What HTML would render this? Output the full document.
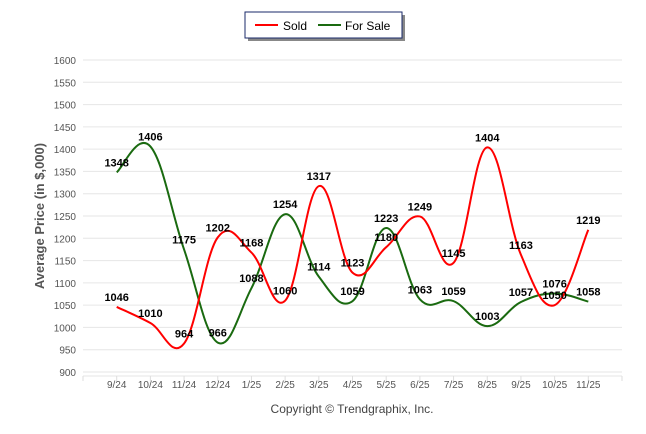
<!DOCTYPE html>
<html><head><meta charset="utf-8"><style>
body{margin:0;background:#fff;font-family:"Liberation Sans",Arial,sans-serif}
svg{display:block}
</style></head><body>
<svg id="c" width="646" height="434">
<g>
<rect x="248" y="15" width="157" height="26" fill="#888"/>
<rect x="245" y="12" width="157" height="26" fill="#fff" stroke="#1a2a6a" stroke-width="1"/>
<line x1="255" y1="25" x2="278" y2="25" stroke="#f00" stroke-width="2"/>
<text x="283" y="30" font-size="12" fill="#000">Sold</text>
<line x1="318" y1="25" x2="341" y2="25" stroke="#1a6a10" stroke-width="2"/>
<text x="345" y="30" font-size="12" fill="#000">For Sale</text>
</g>
<text transform="translate(44,216) rotate(-90)" text-anchor="middle" font-size="13" font-weight="bold" fill="#555">Average Price (in $,000)</text>
<text x="352" y="413" text-anchor="middle" font-size="12" fill="#444">Copyright © Trendgraphix, Inc.</text>
<g id="grid"></g><g id="series"></g><g id="labels"></g>
</svg>
<script>
const categories=["9/24","10/24","11/24","12/24","1/25","2/25","3/25","4/25","5/25","6/25","7/25","8/25","9/25","10/25","11/25"];
const soldValues=[1046,1010,964,1202,1168,1060,1317,1123,1180,1249,1145,1404,1163,1050,1219];
const forSaleValues=[1348,1406,1175,966,1088,1254,1114,1059,1223,1063,1059,1003,1057,1076,1058];
const yTicks=[900,950,1000,1050,1100,1150,1200,1250,1300,1350,1400,1450,1500,1550,1600];
const NS="http://www.w3.org/2000/svg";
const x0=83,x1=622,yTop=60,yBot=372,yMin=900,yMax=1600;
const step=(x1-x0)/(categories.length+1);
function xs(i){return x0+step*(i+1);}
function ys(v){return yBot-(v-yMin)/(yMax-yMin)*(yBot-yTop);}
function mk(t,a,p){const e=document.createElementNS(NS,t);for(const k in a)e.setAttribute(k,a[k]);p.appendChild(e);return e;}
const grid=document.getElementById('grid');
yTicks.forEach(v=>{
 const l=mk('line',{x1:x0,x2:x1,y1:ys(v),y2:ys(v),stroke:'#e6e6e6','stroke-width':1},grid);
 
 
 const t=mk('text',{x:76,y:ys(v)+4,'text-anchor':'end','font-size':10,fill:'#555'},grid);
 t.textContent=v;
 
 
});
mk('line',{x1:x0,x2:x1,y1:yBot+4,y2:yBot+4,stroke:'#e6e6e6'},grid);
for(let i=-1;i<=categories.length;i++){mk('line',{x1:xs(i),x2:xs(i),y1:yBot+4,y2:yBot+9,stroke:'#ddd'},grid);}
categories.forEach((c,i)=>{
 const t=mk('text',{x:xs(i),y:388,'text-anchor':'middle','font-size':10,fill:'#555'},grid);
 t.textContent=c;
 
 
});
function path(vals){
 const p=vals.map((v,i)=>[xs(i),ys(v)]);
 let d='M'+p[0][0]+','+p[0][1];
 for(let i=0;i<p.length-1;i++){
  const a=p[i-1]||p[i],b=p[i],c=p[i+1],e=p[i+2]||c;
  const k=0.19;
  d+=' C'+(b[0]+(c[0]-a[0])*k)+','+(b[1]+(c[1]-a[1])*k)+' '+(c[0]-(e[0]-b[0])*k)+','+(c[1]-(e[1]-b[1])*k)+' '+c[0]+','+c[1];
 }
 return d;
}
const sg=document.getElementById('series');
const ps=mk('path',{d:path(forSaleValues),fill:'none',stroke:'#1a6a10','stroke-width':2},sg);


const pd=mk('path',{d:path(soldValues),fill:'none',stroke:'#f00','stroke-width':2},sg);


const lg=document.getElementById('labels');
[[soldValues,'sold'],[forSaleValues,'for-sale']].forEach(([vals,n])=>{
 vals.forEach((v,i)=>{
  const t=mk('text',{x:xs(i),y:ys(v)-6,'text-anchor':'middle','font-size':11,'font-weight':'bold',fill:'#000'},lg);
  t.textContent=v;
  
  
 });
});
</script>
</body></html>
